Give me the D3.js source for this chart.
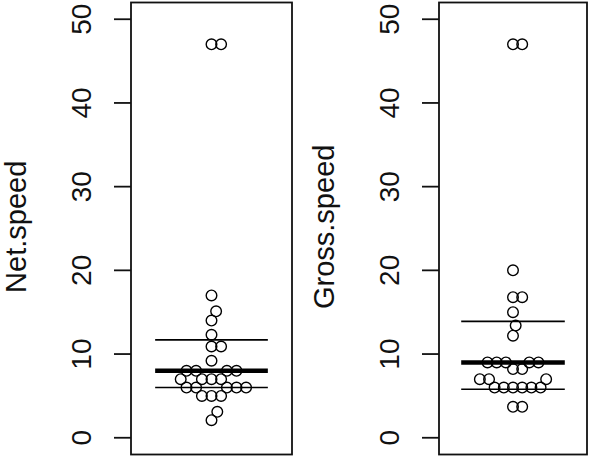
<!DOCTYPE html>
<html lang="en">
<head>
<meta charset="UTF-8">
<title>Net and gross speed</title>
<script src="https://d3js.org/d3.v7.min.js"></script>
<style>
    body { margin: 0; background: #fff; }
    svg { display: block; font-family: "Liberation Sans", Arial, sans-serif; }
</style>
</head>
<body>
<div id="chart"></div>
<script>
// values
var netSpeed = [47, 47, 17, 15.1, 14, 12.3, 10.9, 10.9, 9.2,
    8, 8, 8, 8, 7, 7, 7, 7, 6, 6, 6, 6, 6, 5, 5, 5, 3.1, 2.1];
var grossSpeed = [47, 47, 20, 16.8, 16.8, 15, 13.4, 12.2,
    9, 9, 9, 9, 9, 8.2, 8.2, 7, 7, 7, 6, 6, 6, 6, 6, 6, 3.7, 3.7];
// lower quartile, median, upper quartile
var netLines = [6, 8, 11.7];
var grossLines = [5.8, 9, 13.9];
var yTicks = [0, 10, 20, 30, 40, 50];

var width = 590, height = 460;
var svg = d3.select("#chart").append("svg")
    .attr("width", width)
    .attr("height", height);

var y = d3.scaleLinear().domain([-2, 52]).range([454.5, 2.5]);

var panels = [
    { title: "Net.speed", values: netSpeed, lines: netLines, x0: 131, x1: 292, gsize: 9.6 },
    { title: "Gross.speed", values: grossSpeed, lines: grossLines, x0: 439, x1: 587, gsize: 9.2 }
];

var dsize = 10.5, radius = 5.3;

// swarm layout like R beeswarm: points go in ascending order, each as near
// the centre as it can without overlapping (in point-size units)
function swarm(vals, gsize) {
    var py = vals.map(function(v) { return y(v) / dsize; });
    var order = d3.range(vals.length).sort(function(a, b) { return vals[a] - vals[b]; });
    var off = new Array(vals.length).fill(0);
    var placed = [];
    order.forEach(function(i) {
        var near = placed.filter(function(j) { return Math.abs(py[i] - py[j]) < 1; });
        if (near.length) {
            near.sort(function(a, b) { return Math.abs(off[a]) - Math.abs(off[b]); });
            var cands = [0];
            near.forEach(function(j) {
                var dy = py[i] - py[j];
                cands.push(off[j] + Math.sqrt(1 - dy * dy));
            });
            near.forEach(function(j) {
                var dy = py[i] - py[j];
                cands.push(off[j] - Math.sqrt(1 - dy * dy));
            });
            var best = Infinity;
            cands.forEach(function(c) {
                var bad = near.some(function(j) {
                    var dx = c - off[j], dy = py[i] - py[j];
                    return dx * dx + dy * dy < 0.999;
                });
                if (!bad && Math.abs(c) < Math.abs(best)) best = c;
            });
            off[i] = best;
        }
        placed.push(i);
    });
    return off.map(function(o) { return o * gsize; });
}

panels.forEach(function(p) {
    var x = d3.scaleLinear().domain([0.5, 1.5]).range([p.x0, p.x1]);
    var g = svg.append("g");
    var off = swarm(p.values, p.gsize);

    g.selectAll("circle")
        .data(p.values)
        .enter()
        .append("circle")
        .attr("cx", function(d, i) { return x(1) + off[i]; })
        .attr("cy", function(d) { return y(d); })
        .attr("r", radius)
        .attr("fill", "none")
        .attr("stroke", "#000")
        .attr("stroke-width", 1.4);

    g.selectAll("line.q")
        .data(p.lines)
        .enter()
        .append("line")
        .attr("class", "q")
        .attr("x1", x(0.65))
        .attr("x2", x(1.35))
        .attr("y1", function(d) { return y(d); })
        .attr("y2", function(d) { return y(d); })
        .attr("stroke", "#000")
        .attr("stroke-width", function(d, i) { return i == 1 ? 4.5 : 1.6; });

    g.append("rect")
        .attr("x", p.x0)
        .attr("y", y(52))
        .attr("width", p.x1 - p.x0)
        .attr("height", y(-2) - y(52))
        .attr("fill", "none")
        .attr("stroke", "#111")
        .attr("stroke-width", 1.8);

    var axis = g.append("g")
        .attr("transform", "translate(" + p.x0 + ",0)")
        .call(d3.axisLeft(y).tickValues(yTicks).tickSize(17).tickPadding(0).tickFormat(d3.format("d")));
    axis.select(".domain").remove();
    axis.selectAll(".tick line").attr("stroke", "#111").attr("stroke-width", 1.8);
    axis.selectAll(".tick text")
        .attr("transform", function(d) { return "translate(-40," + y(d) + ") rotate(-90)"; })
        .attr("x", 0).attr("y", 0).attr("dy", null)
        .attr("text-anchor", "middle")
        .attr("font-size", 28)
        .attr("font-family", "Liberation Sans, Arial, sans-serif")
        .attr("fill", "#111");
    // the text transforms hold the y shift, so drop the tick group offset
    axis.selectAll(".tick").attr("transform", null);

    g.append("text")
        .attr("transform", "translate(" + (p.x0 - 105) + "," + y(25.2) + ") rotate(-90)")
        .attr("text-anchor", "middle")
        .attr("font-size", 29)
        .attr("fill", "#111")
        .text(p.title);
});

svg.selectAll(".tick line").each(function(d) {
    d3.select(this).attr("y1", y(d)).attr("y2", y(d));
});
</script>
</body>
</html>
